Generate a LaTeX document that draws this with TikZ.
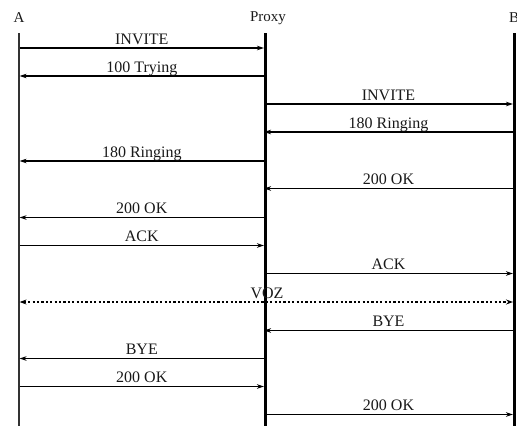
\documentclass[tikz,border=0pt]{standalone}
\usepackage{fontspec}
\setmainfont{Liberation Serif}
\usetikzlibrary{arrows.meta}
\begin{document}
\begin{tikzpicture}[x=1pt,y=-1pt,
  lifethin/.style={line width=1.4pt, draw=black!80},
  lifethick/.style={line width=3pt, draw=black},
  msg/.style={line width=1.2pt, -{Stealth[length=7pt,width=4.5pt]}},
  msgmed/.style={msg, line width=2pt},
  msgthick/.style={msg, line width=2.4pt},
  voz/.style={line width=2.4pt, dash pattern=on 2.2pt off 2.2pt,
     {Stealth[length=7pt,width=5pt]}-{Stealth[length=7pt,width=5pt]}},
  lbl/.style={anchor=base, yshift=4pt, font=\fontsize{16}{18}\selectfont, text=black!90, inner sep=0pt},
  head/.style={font=\fontsize{15}{17}\selectfont, text=black!90, inner sep=0pt}]
\useasboundingbox (0,0) rectangle (517,426);
% headers
\node[head] (hA) at (19,18) {A};
\node[head] (hP) at (268,18) {Proxy};
\node[head, anchor=west] (hB) at (509,18) {B};
% lifelines
\coordinate (At) at (19,33);  \coordinate (Ab) at (19,426);
\coordinate (Pt) at (265.5,33); \coordinate (Pb) at (265.5,426);
\coordinate (Bt) at (514.5,33); \coordinate (Bb) at (514.5,426);
\draw[lifethin] (At) -- (Ab);
\draw[lifethick] (Pt) -- (Pb);
\draw[lifethick] (Bt) -- (Bb);
% message anchor points
\foreach \i/\yy in {1/48,2/76,3/104,4/132,5/161,6/188.5,7/217.5,8/245.5,9/273.5,10/302,11/330.5,12/358.5,13/386.5,14/414.5}{
  \coordinate (a\i) at (19.6,\yy);
  \coordinate (p\i) at (264,\yy);
  \coordinate (b\i) at (513,\yy);
}
\draw[msgthick] (a1) -- node[lbl]{INVITE} (p1);
\draw[msgthick] (p2) -- node[lbl]{100 Trying} (a2);
\draw[msgmed] (p3) -- node[lbl]{INVITE} (b3);
\draw[msgmed] (b4) -- node[lbl]{180 Ringing} (p4);
\draw[msgthick] (p5) -- node[lbl]{180 Ringing} (a5);
\draw[msg] (b6) -- node[lbl]{200 OK} (p6);
\draw[msg] (p7) -- node[lbl]{200 OK} (a7);
\draw[msg] (a8) -- node[lbl]{ACK} (p8);
\draw[msg] (p9) -- node[lbl]{ACK} (b9);
\draw[voz] (a10) -- (b10);
\node[lbl, anchor=base, xshift=3pt] (vozl) at (p10) {VOZ};
\draw[msg] (b11) -- node[lbl]{BYE} (p11);
\draw[msg] (p12) -- node[lbl]{BYE} (a12);
\draw[msg] (a13) -- node[lbl]{200 OK} (p13);
\draw[msg] (p14) -- node[lbl]{200 OK} (b14);
\end{tikzpicture}
\end{document}
